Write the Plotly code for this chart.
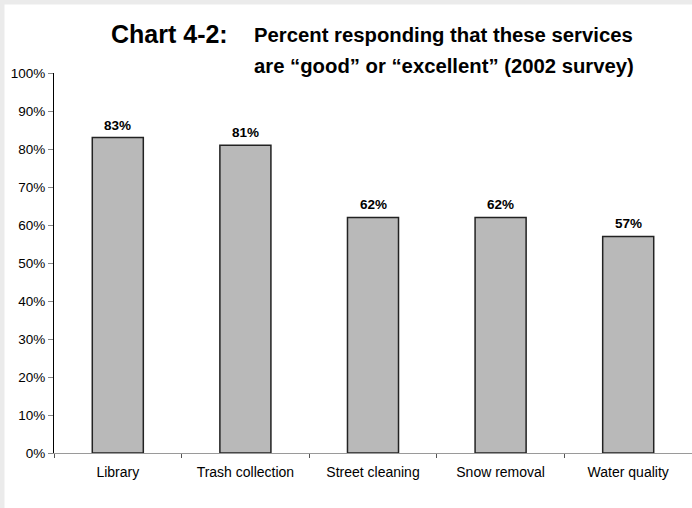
import plotly.graph_objects as go

# Survey results: share rating each service "good" or "excellent"
services = ["Library", "Trash collection", "Street cleaning", "Snow removal", "Water quality"]
percent_good = [0.83, 0.81, 0.62, 0.62, 0.57]
value_labels = ["83%", "81%", "62%", "62%", "57%"]

FONT = "Liberation Sans, Arial, sans-serif"

# Plot area geometry in pixels (used to place the title and frame)
W, H = 692, 508
ML, MR, MT, MB = 54, 0, 73, 55
PW, PH = W - ML - MR, H - MT - MB


def px_x(px):
    return (px - ML) / PW


def px_y(py):
    return (H - MB - py) / PH


fig = go.Figure()
fig.add_trace(go.Bar(
    x=services,
    y=percent_good,
    width=0.4,
    marker=dict(color="#b9b9b9", line=dict(color="#222222", width=1.5)),
    hoverinfo="skip",
))

# Value labels above each bar
for s, v, lbl in zip(services, percent_good, value_labels):
    fig.add_annotation(
        x=s, y=v, text=f"<b>{lbl}</b>", showarrow=False,
        yanchor="bottom", yshift=3,
        font=dict(family=FONT, size=13.5, color="#000000"),
    )

# Title block
fig.add_annotation(
    xref="paper", yref="paper", x=px_x(109), y=px_y(34),
    xanchor="left", yanchor="middle", showarrow=False,
    text="<b>Chart 4-2:</b>",
    font=dict(family=FONT, size=25, color="#000000"),
)
fig.add_annotation(
    xref="paper", yref="paper", x=px_x(252), y=px_y(35),
    xanchor="left", yanchor="middle", showarrow=False,
    text="<b>Percent responding that these services</b>",
    font=dict(family=FONT, size=20.3, color="#000000"),
)
fig.add_annotation(
    xref="paper", yref="paper", x=px_x(252), y=px_y(66),
    xanchor="left", yanchor="middle", showarrow=False,
    text="<b>are \u201cgood\u201d or \u201cexcellent\u201d (2002 survey)</b>",
    font=dict(family=FONT, size=20.3, color="#000000"),
)

# Light gray frame along the top and left edges
fig.add_shape(type="rect", xref="paper", yref="paper",
              x0=px_x(0), x1=px_x(4.5), y0=px_y(H), y1=px_y(0),
              line_width=0, fillcolor="#ebebeb", layer="above")
fig.add_shape(type="rect", xref="paper", yref="paper",
              x0=px_x(0), x1=px_x(W), y0=px_y(4.5), y1=px_y(0),
              line_width=0, fillcolor="#ebebeb", layer="above")

fig.update_layout(
    width=W, height=H,
    margin=dict(l=ML, r=MR, t=MT, b=MB),
    paper_bgcolor="#ffffff", plot_bgcolor="#ffffff",
    showlegend=False,
    font=dict(family=FONT, size=14, color="#000000"),
    xaxis=dict(
        showgrid=False, showline=True, linecolor="#9a9a9a", linewidth=1,
        ticks="outside", tickson="boundaries", ticklen=4, tickcolor="#555555",
        tickfont=dict(size=14), range=[-0.5, 4.5], ticklabelstandoff=6,
    ),
    yaxis=dict(
        range=[0, 1], dtick=0.1, tickformat=".0%", showgrid=False, zeroline=False,
        showline=True, linecolor="#000000", linewidth=1,
        ticks="outside", ticklen=5, tickcolor="#888888",
        tickfont=dict(size=13.5), ticklabelstandoff=0,
    ),
)

fig.write_html("out.html")
